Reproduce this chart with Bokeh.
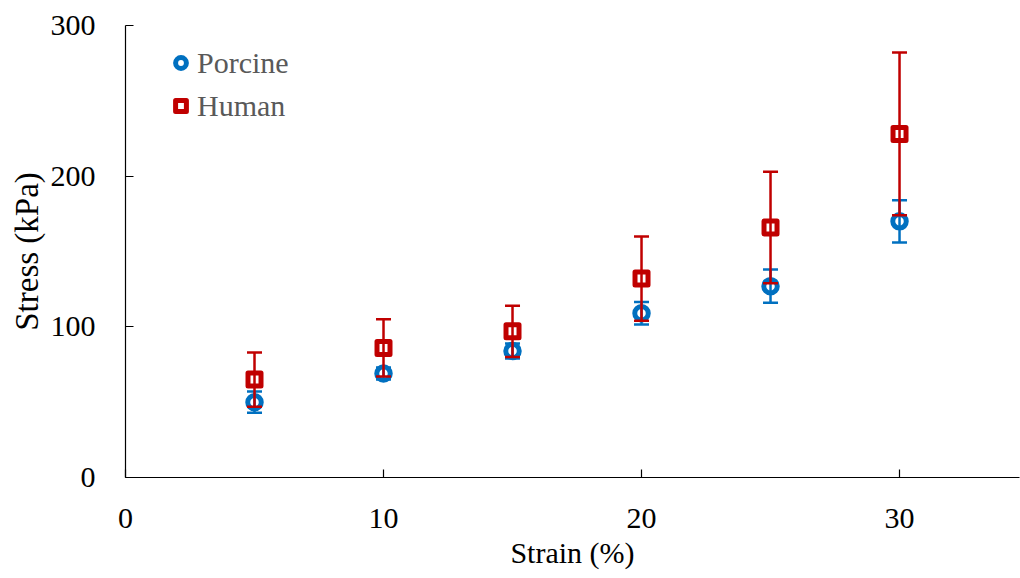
from bokeh.plotting import figure
from bokeh.models import (ColumnDataSource, Whisker, TeeHead, Range1d, FixedTicker,
                          Legend, LegendItem)
from bokeh.embed import file_html
from bokeh.resources import INLINE

# Strain levels (%) and measured stress (kPa) with standard deviations
strain = [5, 10, 15, 20, 25, 30]
porcine_stress = [50, 69, 84, 109, 127, 170]
porcine_sd = [7, 4, 5, 7.5, 11, 14]
human_stress = [65, 86, 97, 132, 166, 228]
human_sd = [18, 19, 17, 28, 37, 54]

x_ticks = [0, 10, 20, 30]
y_ticks = [0, 100, 200, 300]

BLUE = "#0070C0"
RED = "#C00000"
FONT = "Liberation Serif"


def make_source(x, y, err):
    return ColumnDataSource(dict(
        x=x, y=y,
        lower=[v - e for v, e in zip(y, err)],
        upper=[v + e for v, e in zip(y, err)],
    ))


src_p = make_source(strain, porcine_stress, porcine_sd)
src_h = make_source(strain, human_stress, human_sd)

p = figure(width=1020, height=578, frame_width=894, frame_height=452,
           min_border_left=125, min_border_right=1, min_border_top=25,
           min_border_bottom=101, x_range=Range1d(0, 34.65), y_range=Range1d(0, 300),
           output_backend="svg", toolbar_location=None)

p.outline_line_color = None
p.xgrid.visible = False
p.ygrid.visible = False
p.background_fill_color = "white"

for ax in (p.xaxis[0], p.yaxis[0]):
    ax.axis_line_color = "black"
    ax.axis_line_width = 1.2
    ax.major_tick_line_color = "black"
    ax.major_tick_line_width = 1.2
    ax.major_tick_in = 8
    ax.major_tick_out = 0
    ax.minor_tick_line_color = None
    ax.major_label_text_font = FONT
    ax.major_label_text_font_size = "30px"
    ax.major_label_text_color = "black"
    ax.axis_label_text_font = FONT
    ax.axis_label_text_font_style = "normal"
    ax.axis_label_text_color = "black"

p.xaxis.axis_label_text_font_size = "30px"
p.yaxis.axis_label_text_font_size = "33px"
p.xaxis.ticker = FixedTicker(ticks=x_ticks)
p.yaxis.ticker = FixedTicker(ticks=y_ticks)
p.xaxis.axis_label = "Strain (%)"
p.yaxis.axis_label = "Stress (kPa)"
p.xaxis.major_label_standoff = 31
p.yaxis.major_label_standoff = 30
p.xaxis.axis_label_standoff = 5
p.yaxis.axis_label_standoff = 3

# Error bars: porcine first, human lines over them
for src, color in ((src_p, BLUE), (src_h, RED)):
    w = Whisker(source=src, base="x", lower="lower", upper="upper",
                line_color=color, line_width=2.5, level="glyph",
                upper_head=TeeHead(size=15, line_color=color, line_width=2.5),
                lower_head=TeeHead(size=15, line_color=color, line_width=2.5))
    p.add_layout(w)

r_h = p.scatter("x", "y", source=src_h, marker="square", size=13,
                fill_color=None, line_color=RED, line_width=5, line_join="round")
r_p = p.scatter("x", "y", source=src_p, marker="circle", size=13.5,
                fill_color=None, line_color=BLUE, line_width=5)

legend = Legend(items=[LegendItem(label="Porcine", renderers=[r_p]),
                       LegendItem(label="Human", renderers=[r_h])],
                location=(42, 354), orientation="vertical",
                glyph_width=27, glyph_height=35, label_height=35,
                label_standoff=3, spacing=8, padding=0, margin=0,
                label_text_font=FONT, label_text_font_size="30px",
                label_text_color="#595959",
                border_line_color=None, background_fill_alpha=0)
p.add_layout(legend)

open("out.html", "w").write(file_html(p, INLINE))
